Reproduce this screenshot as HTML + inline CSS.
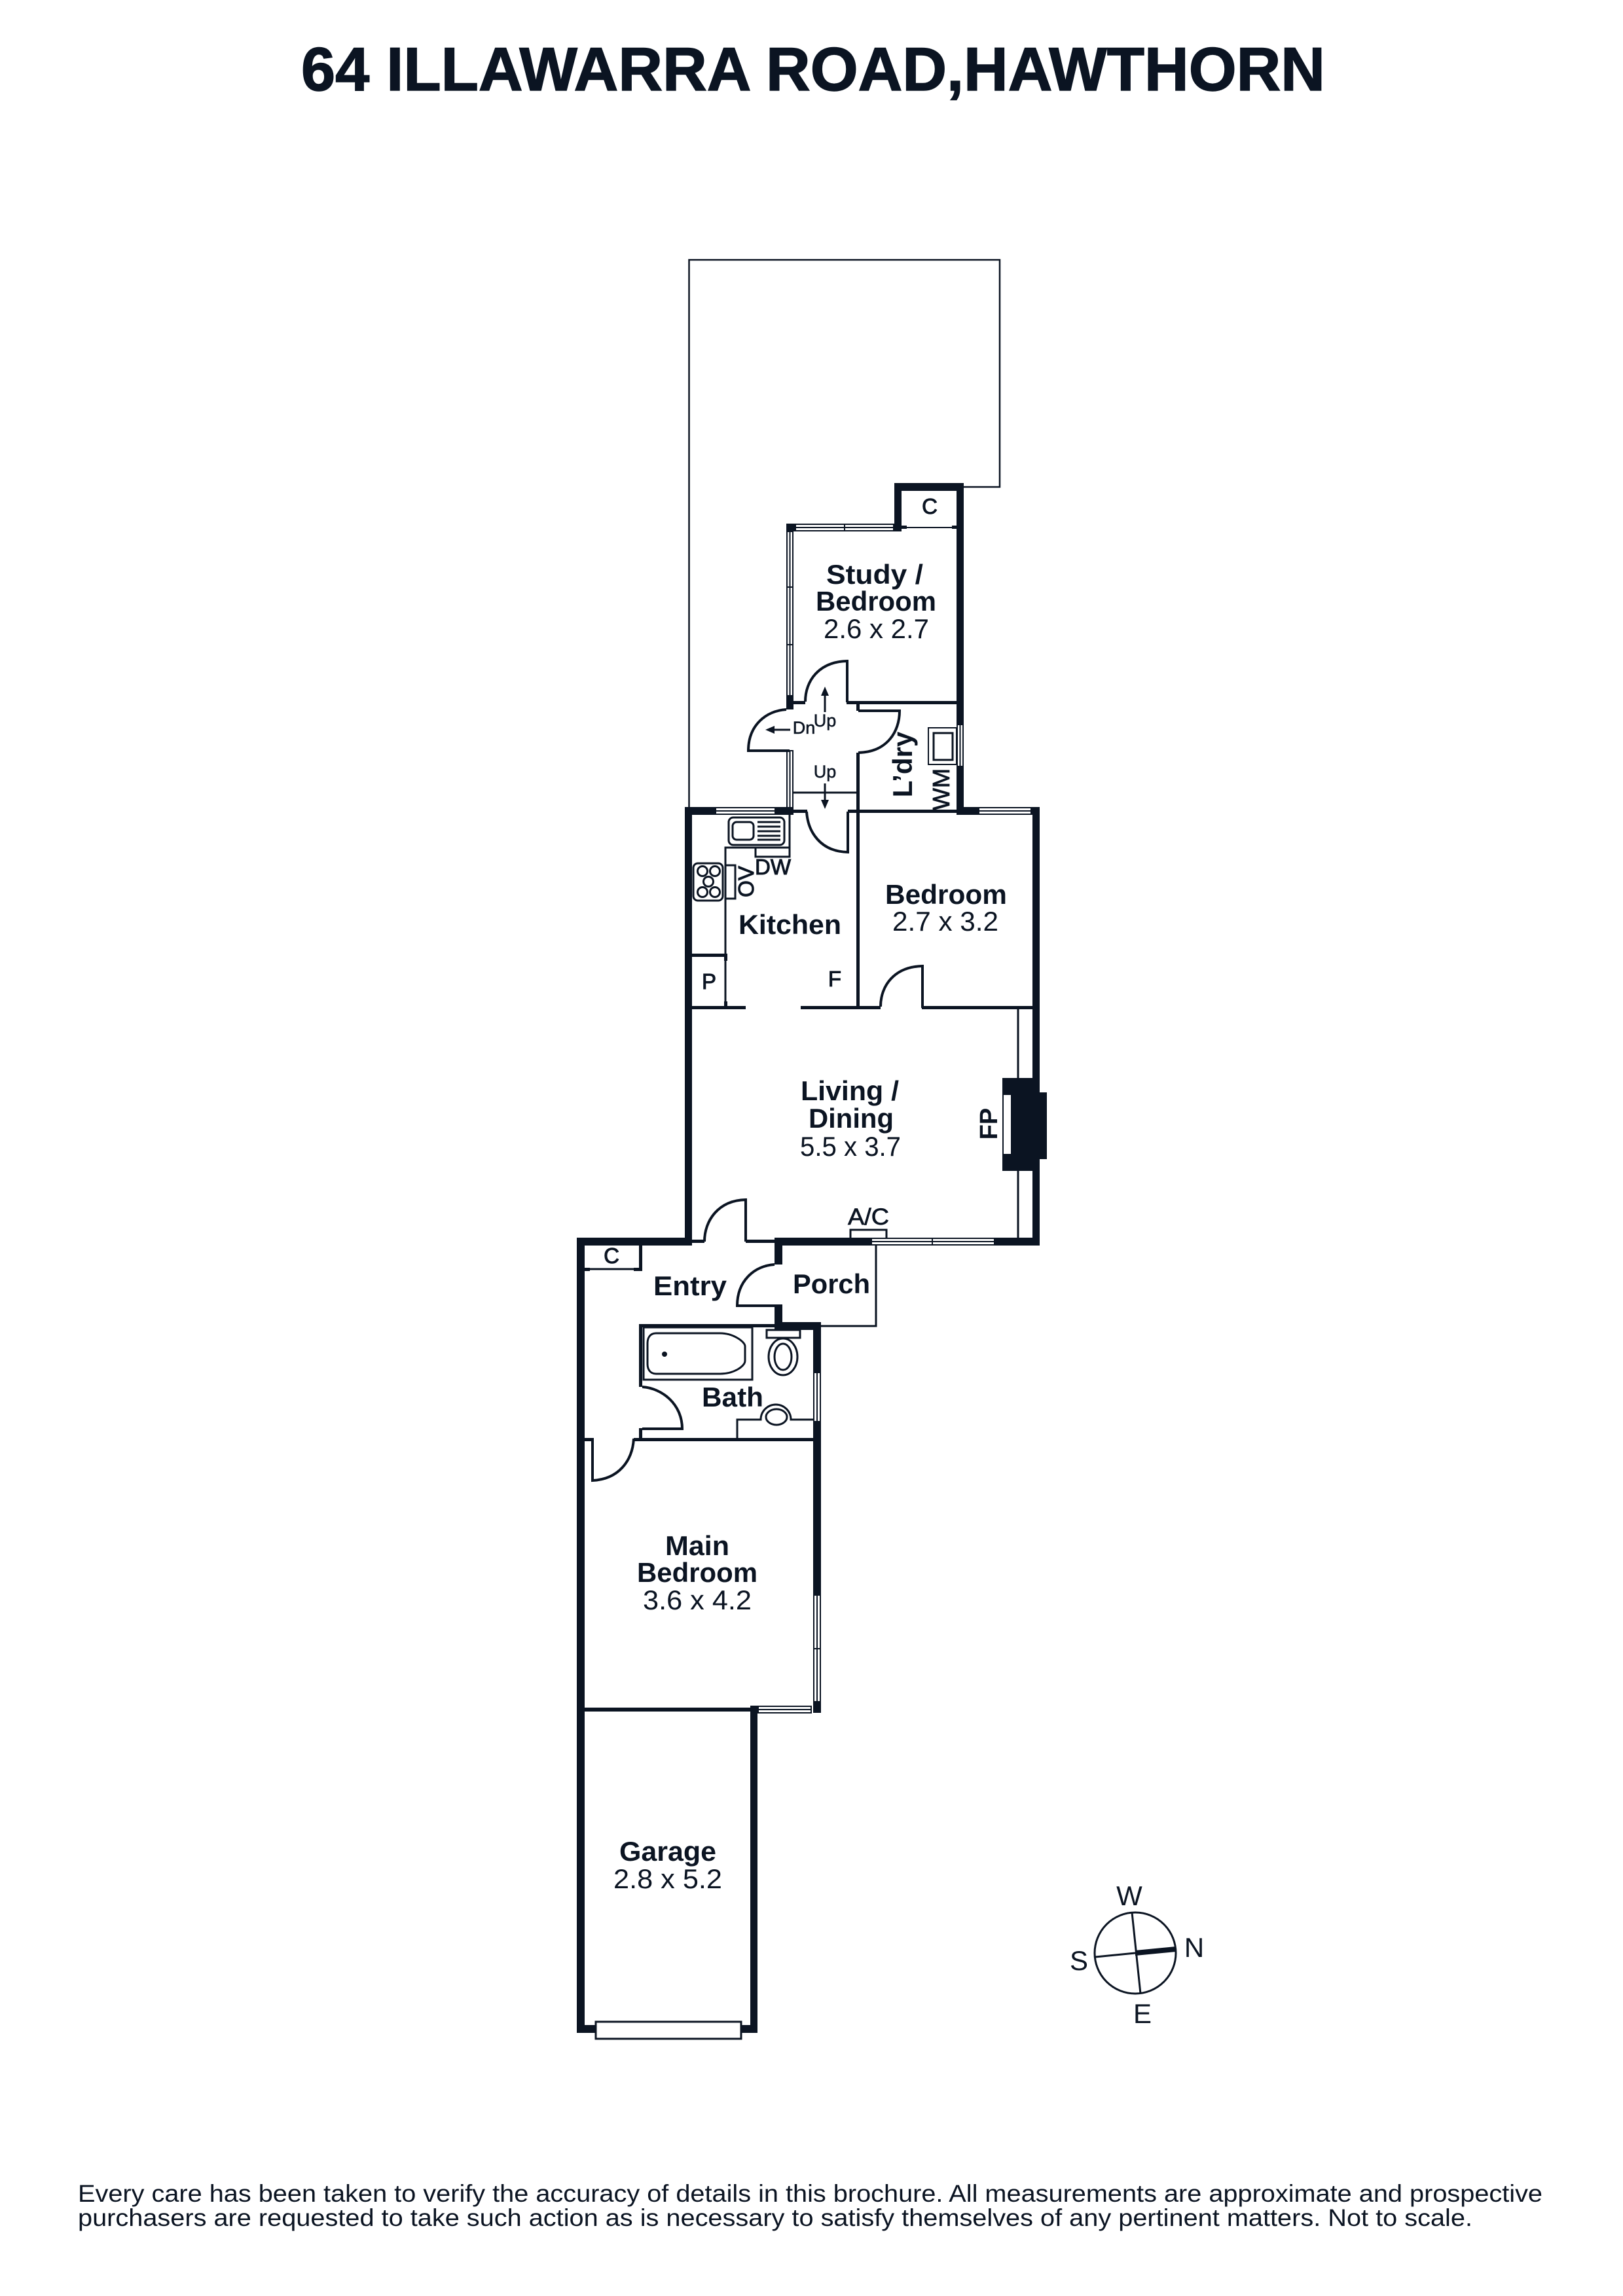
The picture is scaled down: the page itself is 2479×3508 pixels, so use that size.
<!DOCTYPE html>
<html><head><meta charset="utf-8"><style>
html,body{margin:0;padding:0;background:#fff}
svg{display:block}
text{font-family:"Liberation Sans",sans-serif;fill:#0b1422}
.b{font-weight:700;font-size:42px}
.r{font-size:42px}
.m{font-weight:400;stroke:#0b1422;stroke-width:1;font-size:33px}
.a{fill:#0b1422}
.l{fill:none;stroke:#0b1422;stroke-width:3}
.t{fill:none;stroke:#0b1422;stroke-width:2}
.d{fill:none;stroke:#0b1422;stroke-width:4}
.w{fill:#fff;stroke:#0b1422;stroke-width:2}
</style></head><body>
<svg xmlns="http://www.w3.org/2000/svg" width="2479" height="3508" viewBox="0 0 2479 3508">
<rect width="2479" height="3508" fill="#fff"/>
<text x="460" y="138" font-size="94" font-weight="700" textLength="1564" lengthAdjust="spacingAndGlyphs" stroke="#0b1422" stroke-width="1.5">64 ILLAWARRA ROAD,HAWTHORN</text>

<!-- yard -->
<path class="l" style="stroke-width:2.500" d="M1052.500 1233V397H1527V744H1472"/>

<!-- thick walls -->
<g class="a">
<rect x="1366" y="738" width="106" height="12"/>
<rect x="1366" y="738" width="11" height="74"/>
<rect x="1461" y="738" width="11" height="369"/>
<rect x="1461" y="1171" width="11" height="74"/>
<rect x="1201" y="800" width="14" height="12"/>
<rect x="1354" y="800" width="23" height="12"/>
<rect x="1201" y="1063" width="11" height="21"/>
<rect x="1212" y="1071" width="18" height="5"/>
<rect x="1293" y="1071" width="168" height="5"/>
<rect x="1308" y="1071" width="5" height="15"/>
<rect x="1308" y="1150" width="5" height="90"/>
<rect x="1046" y="1233" width="47" height="12"/>
<rect x="1184" y="1233" width="28" height="12"/>
<rect x="1212" y="1237" width="21" height="5"/>
<rect x="1295" y="1237" width="166" height="5"/>
<rect x="1308" y="1240" width="5" height="302"/>
<rect x="1461" y="1233" width="34" height="12"/>
<rect x="1575" y="1233" width="13" height="12"/>
<rect x="1046" y="1233" width="11" height="670"/>
<rect x="1577" y="1233" width="11" height="670"/>
<rect x="1057" y="1457" width="54" height="5"/>
<rect x="1106" y="1457" width="5" height="11"/>
<rect x="1106" y="1530" width="5" height="10"/>
<rect x="1057" y="1537" width="82" height="5"/>
<rect x="1223" y="1537" width="122" height="5"/>
<rect x="1408" y="1537" width="169" height="5"/>
<!-- fireplace -->
<rect x="1531" y="1647" width="57" height="142"/>
<rect x="1588" y="1669" width="11" height="102"/>
<!-- lower part -->
<rect x="881" y="1891" width="176" height="12"/>
<rect x="881" y="1891" width="12" height="1215"/>
<rect x="1057" y="1894" width="19" height="5"/>
<rect x="1139" y="1894" width="44" height="5"/>
<rect x="1183" y="1891" width="150" height="12"/>
<rect x="1519" y="1891" width="69" height="12"/>
<rect x="1183" y="1891" width="12" height="41"/>
<rect x="1183" y="1993" width="12" height="39"/>
<rect x="976" y="1903" width="5" height="39"/>
<rect x="893" y="1937" width="8" height="5"/>
<rect x="968" y="1937" width="13" height="5"/>
<rect x="976" y="2023" width="207" height="5"/>
<rect x="1183" y="2020" width="70" height="12"/>
<rect x="1242" y="2020" width="12" height="77"/>
<rect x="1242" y="2172" width="12" height="265"/>
<rect x="1242" y="2600" width="12" height="17"/>
<rect x="976" y="2023" width="5" height="96"/>
<rect x="976" y="2182" width="5" height="15"/>
<rect x="968" y="2197" width="274" height="5"/>
<rect x="893" y="2197" width="12" height="5"/>
<rect x="893" y="2609" width="253" height="6"/>
<rect x="1146" y="2606" width="11" height="500"/>
<rect x="881" y="3094" width="276" height="12"/>
</g>
<rect x="1533" y="1673" width="11" height="90" fill="#fff"/>

<!-- windows -->
<g>
<rect class="w" x="1215" y="801" width="150" height="10"/><path class="t" d="M1215 806H1365M1290 801V811"/>
<rect class="w" x="1202" y="812" width="9" height="251"/><path class="t" d="M1206.500 812V1063M1202 897H1211M1202 985H1211"/>
<rect class="w" x="1202" y="1147" width="9" height="87"/><path class="t" d="M1206.500 1147V1234"/>
<rect class="w" x="1462" y="1107" width="9" height="64"/><path class="t" d="M1466.500 1107V1171"/>
<rect class="w" x="1093" y="1234" width="91" height="10"/><path class="t" d="M1093 1239H1184"/>
<rect class="w" x="1495" y="1234" width="80" height="10"/><path class="t" d="M1495 1239H1575"/>
<rect class="w" x="1331" y="1892" width="188" height="10"/><path class="t" d="M1331 1897H1519M1424 1892V1902"/>
<rect class="w" x="1243" y="2097" width="10" height="75"/><path class="t" d="M1248 2097V2172"/>
<rect class="w" x="1243" y="2437" width="10" height="163"/><path class="t" d="M1248 2437V2600M1243 2519H1253"/>
<rect class="w" x="1158" y="2607" width="81" height="10"/><path class="t" d="M1158 2612H1239"/>
<rect class="w" x="910" y="3089" width="222" height="26" style="stroke-width:3"/>
</g>

<!-- closets and thin lines -->
<path class="t" d="M1377 806H1461"/>
<rect class="a" x="1377" y="803" width="8" height="5"/>
<rect class="a" x="1454" y="803" width="7" height="5"/>
<path class="l" d="M893 1939H976"/>
<path class="l" d="M1212 1211H1308"/>
<path class="l" d="M1555 1542V1647M1555 1789V1891"/>
<path class="l" d="M1338 1903V2026H1253"/>
<path class="l" d="M1299 1891V1879H1354V1891"/>

<!-- doors -->
<path class="d" d="M1230 1072C1230 1040 1251 1011 1294 1010V1073"/>
<path class="d" d="M1311 1086H1374C1374 1118 1355 1149 1311 1150"/>
<path class="d" d="M1201 1084C1170 1086 1143 1108 1143 1147H1206"/>
<path class="d" d="M1232 1240C1234 1271 1253 1301 1295 1302V1240"/>
<path class="d" d="M1345 1538C1345 1506 1366 1477 1409 1476V1540"/>
<path class="d" d="M1076 1897C1076 1865 1097 1834 1139 1833V1897"/>
<path class="d" d="M1183 1932C1152 1934 1126 1957 1126 1995H1183"/>
<path class="d" d="M981 2119C1012 2121 1042 2146 1042 2183H981"/>
<path class="d" d="M968 2198C966 2232 945 2260 905 2262V2197"/>

<!-- arrows -->
<path class="l" d="M1260 1088V1060M1207 1115H1179M1260 1197V1225"/>
<path class="a" d="M1260 1049L1254 1063H1266ZM1169 1115L1183 1109V1121ZM1260 1236L1254 1222H1266Z"/>
<text class="m" x="1260" y="1110" text-anchor="middle" style="font-size:27px;stroke-width:.5">Up</text>
<text class="m" x="1228" y="1121" text-anchor="middle" style="font-size:27px;stroke-width:.6">Dn</text>
<text class="m" x="1260" y="1188" text-anchor="middle" style="font-size:27px;stroke-width:.5">Up</text>

<!-- laundry -->
<rect class="t" x="1418" y="1112" width="43" height="56"/>
<rect class="l" x="1426" y="1120" width="29" height="41"/>

<!-- kitchen fixtures -->
<rect class="l" x="1113" y="1249" width="85" height="42" rx="7"/>
<rect class="l" x="1119" y="1256" width="32" height="27" rx="6"/>
<path class="l" d="M1157 1256H1192M1157 1263H1192M1157 1270H1192M1157 1277H1192M1157 1283H1192"/>
<path class="l" d="M1206 1245V1309H1154V1295M1108 1537V1295H1206"/>
<rect class="l" x="1059" y="1319" width="45" height="57" rx="7"/>
<g class="l"><circle cx="1073" cy="1331" r="7.500"/><circle cx="1092" cy="1331" r="7.500"/><circle cx="1082" cy="1347" r="7.500"/><circle cx="1073" cy="1363" r="7.500"/><circle cx="1092" cy="1363" r="7.500"/></g>
<rect class="l" x="1108" y="1322" width="15" height="51"/>

<!-- bath fixtures -->
<rect class="l" x="983" y="2028" width="166" height="80"/>
<path class="l" d="M1002 2037H1100C1120 2037 1138 2050 1138 2057V2079C1138 2088 1120 2099 1100 2099H1002C993 2099 989 2092 989 2084V2052C989 2044 993 2037 1002 2037Z"/>
<circle class="a" cx="1015" cy="2069" r="4"/>
<rect class="l" x="1171" y="2032" width="51" height="12"/>
<ellipse class="l" cx="1196" cy="2073" rx="22" ry="28"/>
<ellipse class="l" cx="1196" cy="2073" rx="13" ry="20"/>
<path class="l" d="M1126 2197V2169H1162A23 23 0 0 1 1208 2169H1242"/>
<ellipse class="l" cx="1186" cy="2165" rx="16" ry="12"/>

<!-- labels -->
<text class="b" x="1262" y="892" textLength="148" lengthAdjust="spacingAndGlyphs">Study /</text>
<text class="b" x="1246" y="933" textLength="184" lengthAdjust="spacingAndGlyphs">Bedroom</text>
<text class="r" x="1258" y="975" textLength="161" lengthAdjust="spacingAndGlyphs">2.6 x 2.7</text>
<text class="b" x="1128" y="1427" textLength="157" lengthAdjust="spacingAndGlyphs">Kitchen</text>
<text class="b" x="1352" y="1381" textLength="186" lengthAdjust="spacingAndGlyphs">Bedroom</text>
<text class="r" x="1363" y="1422" textLength="162" lengthAdjust="spacingAndGlyphs">2.7 x 3.2</text>
<text class="b" x="1223" y="1681" textLength="150" lengthAdjust="spacingAndGlyphs">Living /</text>
<text class="b" x="1235" y="1723" textLength="130" lengthAdjust="spacingAndGlyphs">Dining</text>
<text class="r" x="1222" y="1766" textLength="154" lengthAdjust="spacingAndGlyphs">5.5 x 3.7</text>
<text class="b" x="998" y="1979" textLength="112" lengthAdjust="spacingAndGlyphs">Entry</text>
<text class="b" x="1211" y="1976" textLength="118" lengthAdjust="spacingAndGlyphs">Porch</text>
<text class="b" x="1072" y="2149" textLength="94" lengthAdjust="spacingAndGlyphs">Bath</text>
<text class="b" x="1016" y="2376" textLength="98" lengthAdjust="spacingAndGlyphs">Main</text>
<text class="b" x="973" y="2417" textLength="184" lengthAdjust="spacingAndGlyphs">Bedroom</text>
<text class="r" x="982" y="2459" textLength="166" lengthAdjust="spacingAndGlyphs">3.6 x 4.2</text>
<text class="b" x="946" y="2843" textLength="148" lengthAdjust="spacingAndGlyphs">Garage</text>
<text class="r" x="937" y="2885" textLength="166" lengthAdjust="spacingAndGlyphs">2.8 x 5.2</text>

<text class="b" x="1393" y="1168" transform="rotate(-90 1393 1168)" text-anchor="middle">L’dry</text>
<text class="m" x="1450" y="1206" transform="rotate(-90 1450 1206)" text-anchor="middle" style="font-size:36px;stroke-width:.8">WM</text>
<text class="m" x="1151" y="1347" transform="rotate(-90 1151 1347)" text-anchor="middle" style="font-size:33px">OV</text>
<text class="m" x="1153" y="1336" textLength="55" lengthAdjust="spacingAndGlyphs">DW</text>
<text class="m" x="1083" y="1511" text-anchor="middle">P</text>
<text class="m" x="1275" y="1507" text-anchor="middle">F</text>
<text class="b" x="1523" y="1717" transform="rotate(-90 1523 1717)" text-anchor="middle" style="font-size:38px">FP</text>
<text class="m" x="1295" y="1871" style="font-size:35px;stroke-width:.7" textLength="63" lengthAdjust="spacingAndGlyphs">A/C</text>
<text class="m" x="934" y="1930" text-anchor="middle">C</text>
<text class="m" x="1420" y="785" text-anchor="middle">C</text>

<!-- compass -->
<circle class="l" cx="1734" cy="2984" r="62"/>
<path class="l" d="M1729 2922L1742 3046M1673 2990L1734 2984"/>
<path class="a" d="M1734 2980L1796 2974V2982L1734 2988Z"/>
<text x="1725" y="2911" text-anchor="middle" font-size="42">W</text>
<text x="1824" y="2990" text-anchor="middle" font-size="42">N</text>
<text x="1648" y="3010" text-anchor="middle" font-size="42">S</text>
<text x="1745" y="3091" text-anchor="middle" font-size="42">E</text>

<text x="119" y="3364" font-size="37" textLength="2237" lengthAdjust="spacingAndGlyphs">Every care has been taken to verify the accuracy of details in this brochure. All measurements are approximate and prospective</text>
<text x="119" y="3401" font-size="37" textLength="2130" lengthAdjust="spacingAndGlyphs">purchasers are requested to take such action as is necessary to satisfy themselves of any pertinent matters. Not to scale.</text>
</svg>
</body></html>
